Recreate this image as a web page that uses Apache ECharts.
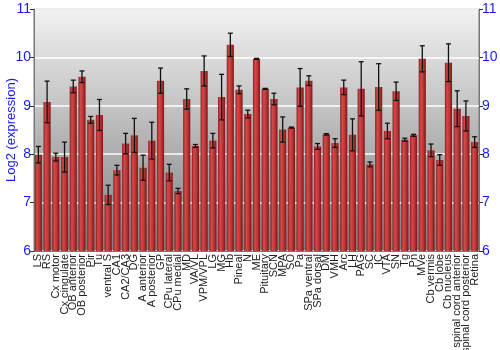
<!DOCTYPE html>
<html><head><meta charset="utf-8">
<script src="https://cdn.jsdelivr.net/npm/echarts@6/dist/echarts.min.js"></script>
<style>html,body{margin:0;padding:0;background:#fff}#c{width:500px;height:350px}</style>
</head><body><div id="c"></div>
<script>
var categories = ["LS","RS","Cx motor","Cx cingulate","OB anterior","OB posterior","Pir","Tu","ventral S","CA1","CA2/CA3","DG","A anterior","A posterior","GP","CPu lateral","CPu medial","MD","VA/VL","VPM/VPL","LG","MG","Hb","Pineal","N","ME","Pituitary","SCN","MPA","SO","Pa","SPa ventral","SPa dorsal","DM","VMH","Arc","LH","PAG","SC","IC","VTA","SN","Tg","Pn","MVe","Cb vermis","Cb lobe","Cb nucleus","spinal cord anterior","spinal cord posterior","Retina"];
var values = [7.99,9.08,7.94,7.94,9.40,9.60,8.71,8.81,7.16,7.67,8.22,8.39,7.72,8.28,9.52,7.62,7.24,9.14,8.17,9.72,8.28,9.18,10.26,9.33,8.83,9.97,9.35,9.14,8.51,8.55,9.38,9.52,8.16,8.41,8.23,9.38,8.40,9.35,7.79,9.39,8.48,9.30,8.30,8.39,9.97,8.08,7.88,9.89,8.94,8.79,8.25];
var errors = [0.17,0.43,0.08,0.31,0.13,0.12,0.07,0.32,0.20,0.10,0.21,0.35,0.26,0.38,0.26,0.17,0.055,0.21,0.03,0.31,0.15,0.47,0.24,0.08,0.08,0.01,0.01,0.12,0.26,0.01,0.39,0.10,0.06,0.015,0.09,0.15,0.33,0.56,0.05,0.48,0.16,0.19,0.03,0.02,0.27,0.13,0.11,0.39,0.37,0.31,0.11];
var yTicks = [6,7,8,9,10,11];

var errData = values.map(function(v,i){ return [i, v - errors[i], v + errors[i]]; });
var blue = '#1a1aff';
var chart = echarts.init(document.getElementById('c'), null, {renderer:'canvas'});
chart.setOption({
  animation: false,
  grid: {left: 34, right: 21, top: 9, bottom: 99, show: true, borderColor: '#777', borderWidth: 1,
    outerBoundsMode: 'none', containLabel: false,
    backgroundColor: new echarts.graphic.LinearGradient(0,0,0,1,[{offset:0,color:'#f2f2f2'},{offset:1,color:'#7e7e7e'}])},
  xAxis: {type:'category', data: categories,
    axisLine:{show:true, lineStyle:{color:'#777'}}, axisTick:{show:false},
    axisLabel:{rotate:90, interval:0, fontFamily:'Liberation Sans', fontSize:11, color:'#222', margin:3}},
  yAxis: [
    {type:'value', min:6, max:11, interval:1, position:'left',
     name:'Log2 (expression)', nameLocation:'middle', nameGap:16, nameRotate:90, nameMoveOverlap:false,
     nameTextStyle:{color:blue, fontFamily:'Liberation Sans', fontSize:13},
     axisLine:{show:true, lineStyle:{color:'#777'}}, axisTick:{show:true, length:4, lineStyle:{color:'#333'}},
     axisLabel:{color:blue, fontFamily:'Liberation Sans', fontSize:14, margin:3, formatter:function(v){return yTicks.indexOf(v)>=0?String(v):'';}},
     splitLine:{show:true, lineStyle:{color:'#ffffff', width:1.5}}},
    {type:'value', min:6, max:11, interval:1, position:'right',
     axisLine:{show:true, lineStyle:{color:'#777'}}, axisTick:{show:true, length:4, lineStyle:{color:'#333'}},
     axisLabel:{color:blue, fontFamily:'Liberation Sans', fontSize:14, margin:3},
     splitLine:{show:false}}
  ],
  series: [
    {type:'bar', data: values, barCategoryGap:'18%',
     itemStyle:{color: new echarts.graphic.LinearGradient(0,0,1,0,[
       {offset:0,color:'#8a2020'},{offset:0.3,color:'#d24a4a'},{offset:0.6,color:'#bf3838'},{offset:1,color:'#7a1818'}])}},
    {type:'custom', data: errData,
     renderItem:function(params, api){
       var x = api.value(0);
       var lo = api.coord([x, api.value(1)]);
       var hi = api.coord([x, api.value(2)]);
       var cap = 2.5;
       var st = {stroke:'#111', lineWidth:1.3};
       return {type:'group', children:[
         {type:'line', shape:{x1:lo[0],y1:lo[1],x2:hi[0],y2:hi[1]}, style:st},
         {type:'line', shape:{x1:lo[0]-cap,y1:lo[1],x2:lo[0]+cap,y2:lo[1]}, style:st},
         {type:'line', shape:{x1:hi[0]-cap,y1:hi[1],x2:hi[0]+cap,y2:hi[1]}, style:st}
       ]};
     }, z:10}
  ]
});
</script></body></html>
